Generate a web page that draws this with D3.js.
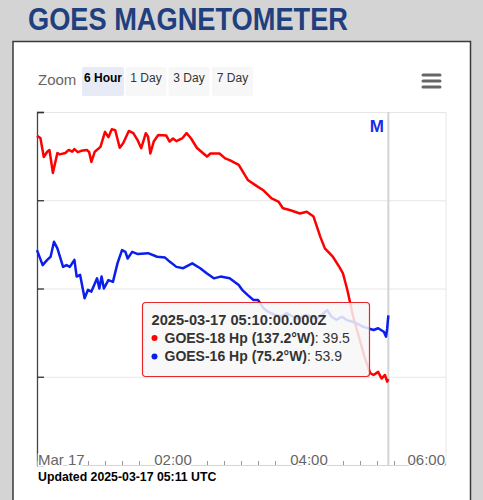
<!DOCTYPE html>
<html lang="en">
<head>
<meta charset="utf-8">
<title>GOES Magnetometer</title>
<script src="https://cdn.jsdelivr.net/npm/d3@7"></script>
<style>
    body
    {
        margin: 0;
        background-color: #d4d4d4;
        font-family: "Liberation Sans", Arial, sans-serif;
    }
    svg
    {
        display: block;
    }
</style>
</head>
<body>
<div id="chart_div"></div>
<script>
"use strict";
var title_text = "GOES MAGNETOMETER";
var zoom_buttons = ["6 Hour", "1 Day", "3 Day", "7 Day"];
var x_tick_labels = ["Mar 17", "02:00", "04:00", "06:00"];
var y_ticks = [20, 40, 60, 80, 100];
var series_names = ["GOES-18 Hp (137.2°W)", "GOES-16 Hp (75.2°W)"];
var series_colors = ["#ff0000", "#0a1eec"];

// minutes after 2025-03-17 00:00 UTC, Hp in nT
var g18_minutes = [0, 3, 6, 9, 11, 14, 18, 20, 25, 28, 31, 33, 36, 39, 44, 46, 48, 51, 56, 60,
    63, 66, 69, 73, 76, 81, 85, 89, 92, 96, 98, 100, 103, 107, 114, 117, 120, 123, 128, 132,
    136, 141, 145, 150, 153, 161, 166, 170, 178, 186, 194, 200, 207, 213, 217, 223, 232, 238,
    244, 250, 254, 261, 267, 270, 274, 279, 284, 289, 294, 297, 301, 304, 307, 309, 310];
var g18_hp = [94.6, 94.1, 89.8, 91.0, 91.4, 86.2, 90.7, 90.4, 90.7, 91.4, 91.0, 91.6, 90.9, 91.2,
    91.4, 90.9, 88.7, 91.0, 92.1, 95.5, 94.3, 96.1, 95.9, 91.9, 92.9, 95.7, 95.2, 93.5, 91.8,
    95.2, 94.4, 90.6, 93.3, 94.8, 94.7, 93.3, 94.0, 93.4, 94.0, 95.2, 94.0, 91.9, 91.0, 89.9,
    90.6, 90.6, 89.5, 89.1, 88.0, 84.6, 83.2, 82.2, 80.4, 79.7, 78.2, 77.8, 77.0, 77.4, 76.3,
    71.7, 69.1, 67.2, 64.8, 63.4, 59.5, 53.6, 49.1, 44.5, 40.8, 40.4, 41.1, 39.6, 40.4, 38.9, 39.5];
var g16_minutes = [0, 5, 9, 12, 15, 18, 23, 26, 29, 33, 35, 38, 42, 45, 48, 53, 55, 57, 59, 63,
    67, 71, 75, 78, 80, 84, 89, 98, 106, 113, 117, 123, 129, 137, 144, 150, 156, 162, 170, 178,
    181, 186, 191, 195, 200, 204, 210, 216, 220, 226, 231, 237, 242, 247, 251, 256, 260, 264,
    269, 273, 278, 282, 288, 292, 297, 301, 306, 308, 309, 310];
var g16_hp = [68.7, 65.3, 66.5, 67.2, 70.6, 69.1, 64.9, 65.3, 64.9, 66.5, 62.7, 63.1, 57.8, 59.7,
    59.3, 62.3, 60.0, 62.7, 60.0, 61.9, 61.5, 65.7, 68.7, 68.3, 66.8, 68.3, 67.8, 68.0, 67.2,
    67.0, 66.1, 64.9, 64.6, 65.7, 64.6, 63.4, 62.3, 62.7, 62.3, 60.8, 59.7, 58.5, 57.4, 57.4,
    55.5, 54.7, 54.0, 53.6, 54.4, 53.6, 53.2, 54.0, 53.6, 53.2, 54.0, 55.1, 53.6, 52.9, 53.6,
    52.9, 52.5, 52.1, 51.3, 51.0, 50.6, 51.0, 50.2, 49.1, 51.0, 53.9];

var tip_time = "2025-03-17T05:10:00.000Z";
var tip_values = [39.5, 53.9];
var updated_text = "Updated 2025-03-17 05:11 UTC";

var svg_width = 483;
var svg_height = 500;
var plot_left = 37;
var plot_right = 445;
var plot_top = 112;
var plot_bottom = 465;

var start = new Date("2025-03-17T00:00:00Z");
var end = new Date("2025-03-17T06:00:00Z");
var now = new Date(tip_time);

var svg = d3.select("#chart_div")
    .append("svg")
    .attr("width", svg_width)
    .attr("height", svg_height);

// page title
svg.append("text")
    .attr("x", 28)
    .attr("y", 30)
    .attr("textLength", 320)
    .attr("lengthAdjust", "spacingAndGlyphs")
    .style("font-size", "32px")
    .style("font-weight", "bold")
    .style("fill", "#1f3f7e")
    .text(title_text);

// white chart panel
svg.append("rect")
    .attr("x", 13)
    .attr("y", 41.5)
    .attr("width", 457.5)
    .attr("height", 480)
    .attr("fill", "white")
    .attr("stroke", "#3a3a3a")
    .attr("stroke-width", 1.5);

// range selector
svg.append("text")
    .attr("x", 38)
    .attr("y", 85)
    .style("font-size", "15px")
    .style("fill", "#666")
    .text("Zoom");

var btn_x = [82, 125.5, 168.5, 212];
var btn_w = [42, 41, 41, 41];
var btns = svg.selectAll(".btn")
    .data(zoom_buttons)
    .enter()
    .append("g")
    .attr("class", "btn")
    .attr("transform", function(d, i) { return "translate(" + btn_x[i] + ",67)"; });
btns.append("rect")
    .attr("width", function(d, i) { return btn_w[i]; })
    .attr("height", 29)
    .attr("rx", 2)
    .attr("fill", function(d, i) { return i == 0 ? "#e6ebf5" : "#f7f7f7"; });
btns.append("text")
    .attr("x", function(d, i) { return btn_w[i] / 2; })
    .attr("y", 15)
    .attr("text-anchor", "middle")
    .style("font-size", "12px")
    .style("font-weight", function(d, i) { return i == 0 ? "bold" : "normal"; })
    .style("fill", function(d, i) { return i == 0 ? "#000" : "#333"; })
    .text(function(d) { return d; });

// hamburger menu
svg.selectAll(".menu")
    .data([75, 81, 87])
    .enter()
    .append("line")
    .attr("x1", 423)
    .attr("x2", 440)
    .attr("y1", function(d) { return d; })
    .attr("y2", function(d) { return d; })
    .attr("stroke", "#666")
    .attr("stroke-width", 3)
    .attr("stroke-linecap", "round");

var xscale = d3.scaleUtc()
    .domain([start, end])
    .range([plot_left, plot_right]);
var yscale = d3.scaleLinear()
    .domain([20, 100])
    .range([plot_bottom, plot_top]);

// grid
var grid = svg.append("g")
    .attr("transform", "translate(" + plot_left + ",0)")
    .call(d3.axisRight(yscale).tickValues(y_ticks).tickSize(plot_right - plot_left + 1).tickFormat(""));
grid.select(".domain").remove();
grid.selectAll("line").attr("stroke", "#e6e6e6");

svg.append("line")
    .attr("x1", plot_right + 1).attr("x2", plot_right + 1)
    .attr("y1", plot_top).attr("y2", plot_bottom)
    .attr("stroke", "#e6e6e6");

// current time line
svg.append("line")
    .attr("x1", xscale(now)).attr("x2", xscale(now))
    .attr("y1", plot_top).attr("y2", plot_bottom)
    .attr("stroke", "#d3d3d3")
    .attr("stroke-width", 2);

svg.append("text")
    .attr("x", 384)
    .attr("y", 132)
    .attr("text-anchor", "end")
    .style("font-size", "17px")
    .style("font-weight", "bold")
    .style("fill", "#1a2ee8")
    .text("M");

// y axis
var yaxis = svg.append("g")
    .attr("transform", "translate(" + plot_left + ",0)")
    .call(d3.axisRight(yscale).tickValues(y_ticks).tickSize(7).tickFormat(""));
yaxis.select(".domain").attr("stroke", "#444").attr("stroke-width", 1.3);
yaxis.selectAll("line").attr("stroke", "#333").attr("stroke-width", 1.3);

// x axis
var xaxis = svg.append("g")
    .attr("transform", "translate(0," + plot_bottom + ")")
    .call(d3.axisTop(xscale).ticks(d3.utcMinute.every(15)).tickSize(4).tickSizeOuter(0).tickFormat(""));
xaxis.select(".domain").attr("stroke", "#ccd6eb");
xaxis.selectAll("line").attr("stroke", "#999");

var label_ticks = xscale.ticks(d3.utcHour.every(2));
svg.selectAll(".xlabel")
    .data(label_ticks)
    .enter()
    .append("text")
    .attr("class", "xlabel")
    .attr("x", function(d, i) { return i == 0 ? xscale(d) + 1 : xscale(d); })
    .attr("y", plot_bottom)
    .attr("text-anchor", function(d, i) { return i == 0 ? "start" : (i == label_ticks.length - 1 ? "end" : "middle"); })
    .attr("stroke", "white")
    .attr("stroke-width", 3)
    .attr("paint-order", "stroke")
    .style("font-size", "15px")
    .style("fill", "#666")
    .text(function(d, i) { return x_tick_labels[i]; });

// series
var line = d3.line()
    .x(function(d) { return xscale(d3.utcMinute.offset(start, d[0])); })
    .y(function(d) { return yscale(d[1]); });
var series = [d3.zip(g18_minutes, g18_hp), d3.zip(g16_minutes, g16_hp)];
svg.selectAll(".series")
    .data(series)
    .enter()
    .append("path")
    .attr("class", "series")
    .attr("d", line)
    .attr("fill", "none")
    .attr("stroke", function(d, i) { return series_colors[i]; })
    .attr("stroke-width", 2.5)
    .attr("stroke-linejoin", "round");

// tooltip
var tip = svg.append("g").attr("transform", "translate(142.5,302.5)");
tip.append("rect")
    .attr("width", 227)
    .attr("height", 74)
    .attr("rx", 3)
    .attr("fill", "#f7f7f7")
    .attr("fill-opacity", 0.85)
    .attr("stroke", "#e8282c")
    .attr("stroke-width", 1.2);
tip.append("text")
    .attr("x", 9)
    .attr("y", 22)
    .attr("textLength", 175)
    .attr("lengthAdjust", "spacingAndGlyphs")
    .style("font-size", "14.5px")
    .style("font-weight", "bold")
    .style("fill", "#333")
    .text(tip_time.replace("T", " "));
series_names.forEach(function(name, i)
{
    var yy = 40 + i * 18.5;
    tip.append("circle")
        .attr("cx", 12)
        .attr("cy", yy - 4.5)
        .attr("r", 3)
        .attr("fill", series_colors[i]);
    var t = tip.append("text")
        .attr("x", 22)
        .attr("y", yy)
        .style("font-size", "14px")
        .style("fill", "#333");
    t.append("tspan").style("font-weight", "bold").text(name);
    t.append("tspan").text(": " + tip_values[i]);
});

svg.append("text")
    .attr("x", 38)
    .attr("y", 481)
    .style("font-size", "12.3px")
    .style("font-weight", "bold")
    .style("fill", "#000")
    .text(updated_text);
</script>
</body>
</html>
